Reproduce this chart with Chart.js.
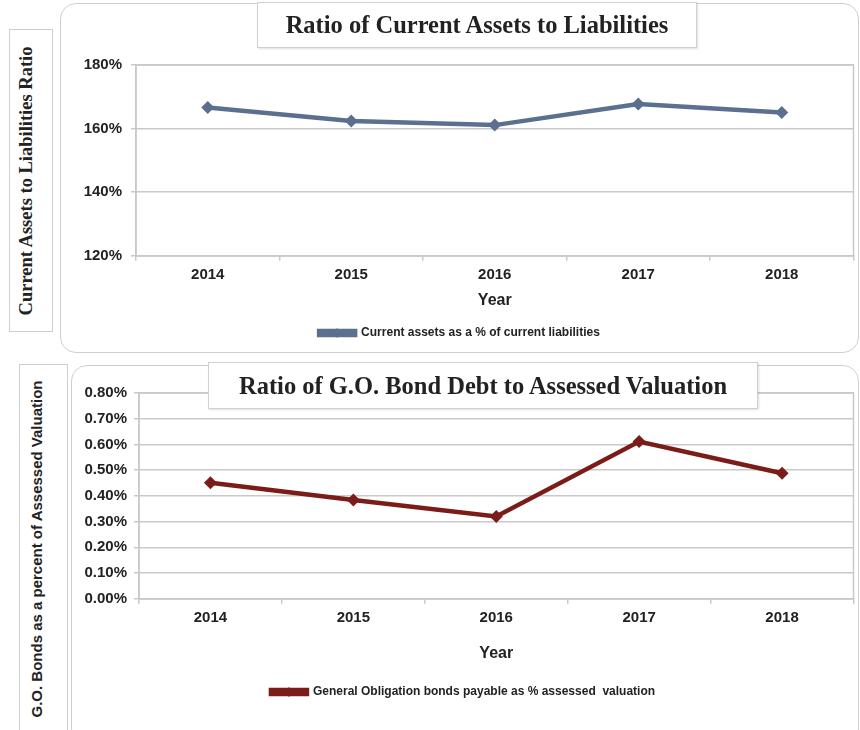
<!DOCTYPE html>
<html>
<head>
<meta charset="utf-8">
<script src="https://cdn.jsdelivr.net/npm/chart.js@4"></script>
<style>
  body { margin: 0; background: #fff; }
  #page { position: relative; width: 860px; height: 730px; overflow: hidden; }
  .frame { position: absolute; border: 1.5px solid #cfcfcf; border-radius: 16px; box-sizing: border-box; }
  .ybox { position: absolute; border: 1.5px solid #cfcfcf; box-sizing: border-box; background: #fff; }
  .ybox span { position: absolute; left: 50%; top: 50%; white-space: nowrap; transform: translate(-50%, -50%) rotate(-90deg); color: #222; font-weight: bold; }
  .tbox { position: absolute; background: #fff; border: 1.5px solid #d0d0d0; box-sizing: border-box; box-shadow: 1px 1px 2px rgba(0,0,0,0.12);
          display: flex; align-items: center; justify-content: center; z-index: 2;
          font-family: "Liberation Serif", serif; font-weight: bold; font-size: 24.5px; color: #222; }
  .wrap { position: absolute; }
</style>
</head>
<body>
<div id="page">
  <div class="ybox" style="left:9px;top:29px;width:44px;height:303px">
    <span style="font-family:'Liberation Serif',serif;font-size:18.5px;margin-left:-5px">Current Assets to Liabilities Ratio</span>
  </div>
  <div class="frame" style="left:60px;top:3px;width:799px;height:350px"></div>
  <div class="wrap" style="left:60px;top:3px;width:800px;height:350px"><canvas id="ratioChart"></canvas></div>
  <div class="tbox" style="left:257px;top:2px;width:440px;height:46px">Ratio of Current Assets to Liabilities</div>

  <div class="ybox" style="left:19px;top:364px;width:49px;height:380px">
    <span style="font-family:'Liberation Sans',Arial,sans-serif;font-size:15px;margin-top:-5px;margin-left:-8px">G.O. Bonds as a percent of Assessed Valuation</span>
  </div>
  <div class="frame" style="left:71px;top:365px;width:788px;height:380px"></div>
  <div class="wrap" style="left:71px;top:365px;width:789px;height:365px"><canvas id="bondChart"></canvas></div>
  <div class="tbox" style="left:208px;top:362px;width:550px;height:47px">Ratio of G.O. Bond Debt to Assessed Valuation</div>
</div>

<script>
const years = ['2014', '2015', '2016', '2017', '2018'];

// current assets as % of current liabilities
const currentRatio = [166.6, 162.4, 161.1, 167.7, 165.1];
const ratioTicks = [120, 140, 160, 180];
const ratioLabel = 'Current assets as a % of current liabilities';

// G.O. bonds payable as % of assessed valuation
const bondRatio = [0.451, 0.384, 0.320, 0.611, 0.488];
const bondTicks = [0, 0.1, 0.2, 0.3, 0.4, 0.5, 0.6, 0.7, 0.8];
const bondLabel = 'General Obligation bonds payable as % assessed  valuation';

const sans = "'Liberation Sans', Arial, sans-serif";
const gridColor = '#c9c9c9';

// plot border + diamond on the legend line
const extras = {
  id: 'extras',
  beforeDatasetsDraw(chart) {
    const a = chart.chartArea;
    const ctx = chart.ctx;
    ctx.save();
    ctx.strokeStyle = gridColor;
    ctx.lineWidth = 1.5;
    ctx.strokeRect(a.left, a.top, a.right - a.left, a.bottom - a.top);
    ctx.restore();
  },
  afterDraw(chart) {
    const lg = chart.legend;
    if (!lg || !lg.legendHitBoxes || !lg.legendHitBoxes.length) return;
    const hb = lg.legendHitBoxes[0];
    const bw = lg.options.labels.boxWidth;
    const cx = hb.left + bw / 2, cy = hb.top + hb.height / 2;
    const ctx = chart.ctx;
    ctx.save();
    ctx.fillStyle = chart.data.datasets[0].borderColor;
    ctx.beginPath();
    ctx.moveTo(cx, cy - 5); ctx.lineTo(cx + 4, cy); ctx.lineTo(cx, cy + 5); ctx.lineTo(cx - 4, cy);
    ctx.closePath();
    ctx.fill();
    ctx.restore();
  }
};

function makeChart(id, values, label, color, yOpts, layout) {
  return new Chart(document.getElementById(id), {
    type: 'line',
    data: {
      labels: years,
      datasets: [{
        label,
        data: values,
        borderColor: color,
        backgroundColor: color,
        borderWidth: 4.5,
        pointStyle: 'rectRot',
        pointRadius: 6.5,
        pointBorderWidth: 0,
        pointBackgroundColor: color,
        tension: 0
      }]
    },
    options: {
      responsive: true,
      maintainAspectRatio: false,
      animation: false,
      layout: { padding: layout.padding },
      plugins: {
        tooltip: { enabled: false },
        legend: {
          position: 'bottom',
          labels: {
            boxWidth: 36,
            boxHeight: 4,
            padding: 10,
            color: '#222',
            font: { family: sans, size: 12, weight: 'bold' }
          }
        }
      },
      scales: {
        x: {
          offset: true,
          grid: { display: true, offset: true, drawOnChartArea: false, tickLength: 5, color: gridColor, lineWidth: 1.5 },
          border: { color: gridColor, width: 1.5 },
          ticks: { padding: 5, color: '#222', font: { family: sans, size: 15, weight: 'bold' } },
          title: {
            display: true, text: 'Year', color: '#222',
            font: { family: sans, size: 16, weight: 'bold' },
            padding: layout.titlePad
          }
        },
        y: Object.assign({
          grid: { color: gridColor, lineWidth: 1.5, tickLength: 5 },
          border: { color: gridColor, width: 1.5 },
          afterFit: s => { s.width = layout.yWidth; }
        }, yOpts)
      }
    },
    plugins: [extras]
  });
}

makeChart('ratioChart', currentRatio, ratioLabel, '#5b6f8e', {
  min: ratioTicks[0],
  max: ratioTicks[ratioTicks.length - 1],
  afterBuildTicks: s => { s.ticks = ratioTicks.map(v => ({ value: v })); },
  ticks: { padding: 9, color: '#222', font: { family: sans, size: 15, weight: 'bold' }, callback: v => v + '%' }
}, { padding: { top: 62, right: 1, left: 0, bottom: 4 }, titlePad: { top: 2, bottom: 7 }, yWidth: 76 });

makeChart('bondChart', bondRatio, bondLabel, '#7b1c18', {
  min: bondTicks[0],
  max: bondTicks[bondTicks.length - 1],
  afterBuildTicks: s => { s.ticks = bondTicks.map(v => ({ value: v })); },
  ticks: { padding: 7, color: '#222', font: { family: sans, size: 15, weight: 'bold' }, callback: v => v.toFixed(2) + '%' }
}, { padding: { top: 28, right: 5, left: 0, bottom: 22 }, titlePad: { top: 12, bottom: 13 }, yWidth: 68 });
</script>
</body>
</html>
